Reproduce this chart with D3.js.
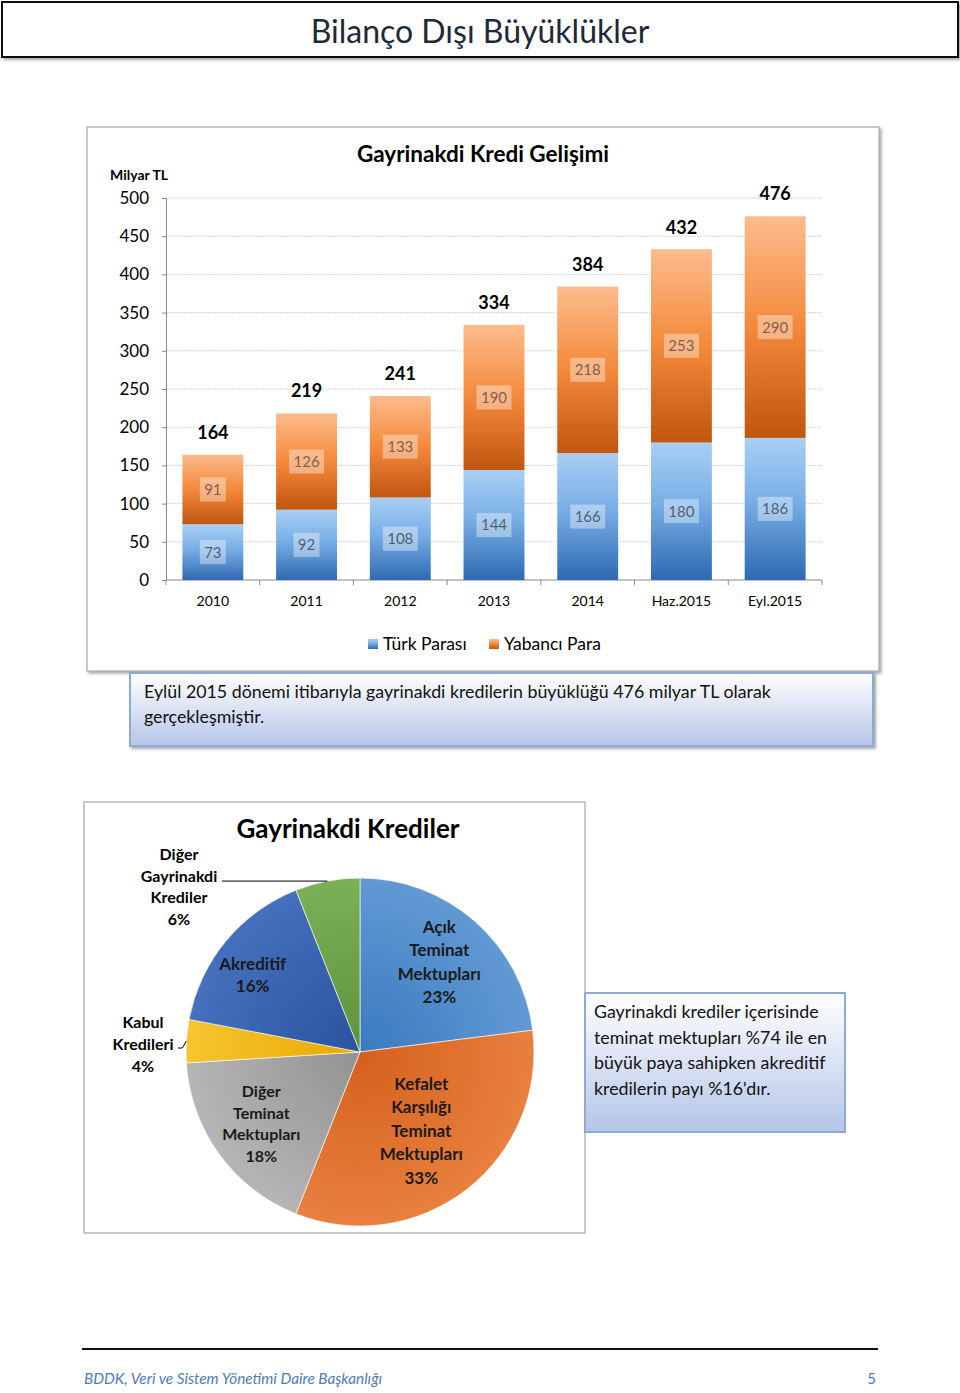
<!DOCTYPE html>
<html><head><meta charset="utf-8">
<script src="https://cdn.jsdelivr.net/npm/d3@7"></script>
<style>
body{margin:0;background:#fff;}
svg{display:block;font-family:Lato,"Open Sans",sans-serif;}
</style></head>
<body>
<svg id="c" width="960" height="1393"></svg>
<script>
// ---------- data ----------
const categories = ["2010","2011","2012","2013","2014","Haz.2015","Eyl.2015"];
const turkParasi = [73,92,108,144,166,180,186];
const yabanciPara = [91,126,133,190,218,253,290];
const totals = [164,219,241,334,384,432,476];
const yTicks = [0,50,100,150,200,250,300,350,400,450,500];
const seriesNames = ["Türk Parası","Yabancı Para"];

const pieLabels = [["Açık","Teminat","Mektupları"],["Kefalet","Karşılığı","Teminat","Mektupları"],["Diğer","Teminat","Mektupları"],["Kabul","Kredileri"],["Akreditif"],["Diğer","Gayrinakdi","Krediler"]];
const pieValues = [23,33,18,4,16,6];

// ---------- setup ----------
const svg = d3.select("#c");
const defs = svg.append("defs");
function vgrad(id, stops){
  const g = defs.append("linearGradient").attr("id",id).attr("x1",0).attr("y1",0).attr("x2",0).attr("y2",1);
  stops.forEach(s=>g.append("stop").attr("offset",s[0]).attr("stop-color",s[1]));
}
vgrad("gBlue",[["0%","#a9cff4"],["45%","#78aee6"],["100%","#2e6ab1"]]);
vgrad("gOrange",[["0%","#fcbc8c"],["50%","#f4893b"],["100%","#c0560f"]]);
vgrad("gBox",[["0%","#ffffff"],["100%","#b5c5e8"]]);
const sh = defs.append("filter").attr("id","shadow").attr("x","-5%").attr("y","-5%").attr("width","115%").attr("height","120%");
sh.append("feDropShadow").attr("dx",2).attr("dy",2).attr("stdDeviation",1.5).attr("flood-color","#000").attr("flood-opacity",0.35);

// ---------- page title ----------
svg.append("rect").attr("x",2).attr("y",2).attr("width",956).attr("height",55)
  .attr("fill","#fff").attr("stroke","#111").attr("stroke-width",2).attr("filter","url(#shadow)");
svg.append("text").attr("x",480).attr("y",43).attr("text-anchor","middle")
  .attr("font-size",32).attr("font-weight",400).attr("fill","#1f2838").text("Bilanço Dışı Büyüklükler");

// ---------- bar chart box ----------
svg.append("rect").attr("x",87).attr("y",127).attr("width",792).attr("height",544)
  .attr("fill","#fff").attr("stroke","#a6a6a6").attr("stroke-width",1.2).attr("filter","url(#shadow)");
svg.append("text").attr("x",483).attr("y",162).attr("text-anchor","middle")
  .attr("font-size",22.5).attr("font-weight",700).attr("fill","#000").text("Gayrinakdi Kredi Gelişimi");
svg.append("text").attr("x",110).attr("y",180).attr("font-size",14).attr("font-weight",700).attr("fill","#000").text("Milyar TL");

const x = d3.scaleBand().domain(categories).range([166,822]).paddingInner(0.35).paddingOuter(0.175);
const y = d3.scaleLinear().domain([0,500]).range([580,198]);

// gridlines
svg.append("g").selectAll("line").data(yTicks.slice(1)).join("line")
  .attr("x1",166).attr("x2",822).attr("y1",d=>y(d)).attr("y2",d=>y(d))
  .attr("stroke","#d4d4d4").attr("stroke-dasharray","2,1").attr("stroke-width",1);

// y axis
const yAxis = svg.append("g").attr("transform","translate(166,0)")
  .call(d3.axisLeft(y).tickValues(yTicks).tickSize(4).tickPadding(13));
yAxis.select(".domain").attr("stroke","#888");
yAxis.selectAll(".tick line").attr("stroke","#888");
yAxis.selectAll("text").attr("font-size",17).attr("fill","#000").attr("font-family","Lato,sans-serif");

// x axis
const xAxisG = svg.append("g").attr("transform","translate(0,580)");
xAxisG.append("line").attr("x1",166).attr("x2",822).attr("stroke","#888");
const bandStep = x.step();
const xb = d3.range(categories.length+1).map(i=>166+i*bandStep);
xAxisG.selectAll("line.tk").data(xb).join("line").attr("class","tk")
  .attr("x1",d=>d).attr("x2",d=>d).attr("y1",0).attr("y2",5).attr("stroke","#888");
xAxisG.selectAll("text").data(categories).join("text")
  .attr("x",d=>x(d)+x.bandwidth()/2).attr("y",26).attr("text-anchor","middle")
  .attr("font-size",14).attr("fill","#000").text(d=>d);

// bars
const bars = svg.append("g");
categories.forEach((c,i)=>{
  const tp = turkParasi[i], yp = yabanciPara[i];
  bars.append("rect").attr("x",x(c)).attr("width",x.bandwidth())
    .attr("y",y(tp)).attr("height",y(0)-y(tp)).attr("fill","url(#gBlue)");
  bars.append("rect").attr("x",x(c)).attr("width",x.bandwidth())
    .attr("y",y(tp+yp)).attr("height",y(tp)-y(tp+yp)).attr("fill","url(#gOrange)");
  const segs = [[tp/2,tp,"#3d4a5c"],[tp+yp/2,yp,"#6b4e44"]];
  segs.forEach(s=>{
    const cx = x(c)+x.bandwidth()/2, cy = y(s[0]);
    const w = String(s[1]).length*9+8;
    bars.append("rect").attr("x",cx-w/2).attr("y",cy-12).attr("width",w).attr("height",24)
      .attr("fill","#ffffff").attr("fill-opacity",0.38);
    bars.append("text").attr("x",cx).attr("y",cy+5.5).attr("text-anchor","middle")
      .attr("font-size",15).attr("fill",s[2]).attr("fill-opacity",0.85).text(s[1]);
  });
  bars.append("text").attr("x",x(c)+x.bandwidth()/2).attr("y",y(totals[i])-16)
    .attr("text-anchor","middle").attr("font-size",18).attr("font-weight",700).attr("fill","#000").text(totals[i]);
});

// legend
const leg = svg.append("g");
const legX = [368,489];
const legC = ["url(#gBlue)","url(#gOrange)"];
seriesNames.forEach((n,i)=>{
  leg.append("rect").attr("x",legX[i]).attr("y",639).attr("width",10).attr("height",10).attr("fill",legC[i]);
  leg.append("text").attr("x",legX[i]+15).attr("y",650).attr("font-size",17.5).attr("fill","#000").text(n);
});

// text box 1
svg.append("rect").attr("x",130).attr("y",673).attr("width",743).attr("height",73)
  .attr("fill","url(#gBox)").attr("stroke","#8eaad8").attr("stroke-width",2).attr("filter","url(#shadow)");
svg.append("text").attr("x",144).attr("y",698).attr("font-size",17.8).attr("fill","#111")
  .text("Eylül 2015 dönemi itibarıyla gayrinakdi kredilerin büyüklüğü 476 milyar TL olarak");
svg.append("text").attr("x",144).attr("y",723).attr("font-size",17.8).attr("fill","#111").text("gerçekleşmiştir.");

// ---------- pie chart ----------
svg.append("rect").attr("x",84).attr("y",802).attr("width",501).attr("height",431)
  .attr("fill","#fff").attr("stroke","#a6a6a6").attr("stroke-width",1.2);
svg.append("text").attr("x",348).attr("y",838).attr("text-anchor","middle")
  .attr("font-size",26).attr("font-weight",700).attr("fill","#000").text("Gayrinakdi Krediler");

const pieColors = [["#6199d4","#3a7abf"],["#e8803f","#d5601c"],["#b5b5b5","#929292"],["#f6c531","#e8a800"],["#4470bd","#2a53a1"],["#7cb058","#5e933b"]];
pieColors.forEach((c,i)=>{
  const g = defs.append("radialGradient").attr("id","pg"+i).attr("gradientUnits","userSpaceOnUse")
    .attr("cx",0).attr("cy",0).attr("r",174);
  g.append("stop").attr("offset","0%").attr("stop-color",c[1]);
  g.append("stop").attr("offset","100%").attr("stop-color",c[0]);
});
const R = 174;
const pc = svg.append("g").attr("transform","translate(360,1052)");
const pie = d3.pie().sort(null).value(d=>d);
const arcs = pie(pieValues);
const arc = d3.arc().innerRadius(0).outerRadius(R);
pc.selectAll("path").data(arcs).join("path").attr("d",arc)
  .attr("fill",(d,i)=>"url(#pg"+i+")").attr("stroke","#fff").attr("stroke-width",0.6);

const labelR = [120,100,122,0,132,0];
const lineH = [23.5,23.5,21.5,22,22,21.5];
const angAdj = [0,0,0,0,-0.07,0];
arcs.forEach((a,i)=>{
  const lines = pieLabels[i].concat([pieValues[i]+"%"]);
  let cx, cy, fs = 17;
  const mid = (a.startAngle+a.endAngle)/2 + angAdj[i];
  if(labelR[i]>0){
    cx = 360 + labelR[i]*Math.sin(mid);
    cy = 1052 - labelR[i]*Math.cos(mid);
  } else if(i===5){
    cx = 179; cy = 887;
  } else {
    cx = 143; cy = 1044;
  }
  if(i===2||i===5||i===3) fs = 16;
  const t = svg.append("text").attr("text-anchor","middle").attr("font-size",fs)
    .attr("font-weight",700).attr("fill",labelR[i]>0?"#1a1a1a":"#000");
  const h = lineH[i];
  const y0 = cy - (lines.length-1)*h/2 + fs*0.35;
  lines.forEach((l,j)=>t.append("tspan").attr("x",cx).attr("y",y0+j*h).text(l));
});
// leader lines
{
  const g = arcs[5], m = (g.startAngle+g.endAngle)/2;
  const px = 360+R*Math.sin(m), py = 1052-R*Math.cos(m);
  svg.append("path").attr("d",`M222,${py}L${px},${py}`).attr("stroke","#000").attr("fill","none").attr("stroke-width",1);
  const k = arcs[3], mk = (k.startAngle+k.endAngle)/2;
  const kx = 360+R*Math.sin(mk), ky = 1052-R*Math.cos(mk);
  svg.append("path").attr("d",`M178,1048L${kx-4},1048L${kx},${ky}`).attr("stroke","#000").attr("fill","none").attr("stroke-width",1);
}

// text box 2
svg.append("rect").attr("x",585).attr("y",993).attr("width",260).attr("height",139)
  .attr("fill","url(#gBox)").attr("stroke","#8eaad8").attr("stroke-width",2);
["Gayrinakdi krediler içerisinde","teminat mektupları %74 ile en","büyük paya sahipken akreditif","kredilerin payı %16'dır."].forEach((l,i)=>{
  svg.append("text").attr("x",594).attr("y",1018+i*25.5).attr("font-size",17.8).attr("fill","#111").text(l);
});

// ---------- footer ----------
svg.append("line").attr("x1",82).attr("x2",878).attr("y1",1349).attr("y2",1349).attr("stroke","#111").attr("stroke-width",2);
svg.append("text").attr("x",84).attr("y",1384).attr("font-size",15.3).attr("font-style","italic").attr("fill","#4f7cb5")
  .text("BDDK, Veri ve Sistem Yönetimi Daire Başkanlığı");
svg.append("text").attr("x",876).attr("y",1384).attr("text-anchor","end").attr("font-size",15).attr("fill","#4f7cb5").text("5");
</script>
</body></html>
